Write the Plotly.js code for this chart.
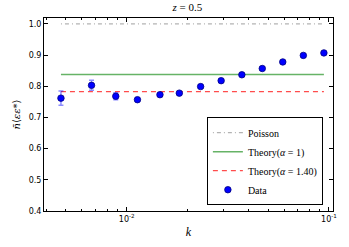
<!DOCTYPE html>
<html>
<head>
<meta charset="utf-8">
<script src="https://cdn.plot.ly/plotly-3.0.1.min.js"></script>
<style>html,body{margin:0;padding:0;background:#fff;}#chart{width:349px;height:247px;}</style>
</head>
<body>
<div id="chart"></div>
<script>
const kValues = [0.00473, 0.0067, 0.00883, 0.0113, 0.0146, 0.0182, 0.0232, 0.0293, 0.0371, 0.0468, 0.0591, 0.0747, 0.0944];
const dataValues = [0.762, 0.803, 0.768, 0.757, 0.773, 0.778, 0.799, 0.818, 0.837, 0.857, 0.878, 0.899, 0.907];
const dataErrors = [0.023, 0.016, 0.011, 0.004, 0.004, 0.004, 0.004, 0.004, 0.004, 0.004, 0.004, 0.004, 0.004];
const poissonValue = 1.0;
const theory1Value = 0.838;
const theory140Value = 0.783;
const lineK = [kValues[0], kValues[kValues.length - 1]];

const serif = "Liberation Serif, DejaVu Serif, serif";
const sans = "DejaVu Sans, sans-serif";

const traces = [
  {x: lineK, y: lineK.map(() => poissonValue), mode: 'lines', name: 'Poisson',
   line: {color: 'rgba(128,128,128,0.6)', width: 1.2, dash: '1px,3px,4px,3px'}},
  {x: lineK, y: lineK.map(() => theory1Value), mode: 'lines', name: 'Theory(<i>α</i> = 1)',
   line: {color: 'rgba(0,128,0,0.6)', width: 1.6}},
  {x: lineK, y: lineK.map(() => theory140Value), mode: 'lines', name: 'Theory(<i>α</i> = 1.40)',
   line: {color: 'rgba(255,0,0,0.7)', width: 1.3, dash: '5px,4px'}},
  {x: kValues, y: dataValues, mode: 'markers', name: 'Data',
   marker: {color: '#0000ff', size: 6.5, line: {color: '#000080', width: 0.8}},
   error_y: {type: 'data', array: dataErrors, visible: true, color: 'rgba(0,0,255,0.45)', thickness: 1.5, width: 2.5}}
];

const layout = {
  width: 349, height: 247,
  margin: {l: 44, r: 16, t: 18, b: 36},
  paper_bgcolor: '#fff', plot_bgcolor: '#fff',
  title: {text: '<i>z</i> = 0.5', font: {family: serif, size: 11, color: '#000'}, x: 0.537, xanchor: 'center', y: 0.985, yanchor: 'top'},
  showlegend: true,
  legend: {x: 0.965, xanchor: 'right', y: 0.03, yanchor: 'bottom', bgcolor: '#fff', bordercolor: '#000', borderwidth: 1,
           font: {family: serif, size: 10, color: '#000'}, tracegroupgap: 0, itemwidth: 30},
  xaxis: {type: 'log', range: [Math.log10(0.0039), Math.log10(0.1047)],
          tickvals: [0.01, 0.1], ticktext: ['10<sup>-2</sup>', '10<sup>-1</sup>'],
          ticks: 'inside', ticklen: 4, tickcolor: '#000', mirror: 'allticks', showline: true, linecolor: '#000', linewidth: 1,
          showgrid: false, zeroline: false,
          minor: {ticks: 'inside', ticklen: 2, tickcolor: '#000', tickvals: [0.004,0.005,0.006,0.007,0.008,0.009,0.02,0.03,0.04,0.05,0.06,0.07,0.08,0.09], showgrid: false},
          tickfont: {family: sans, size: 8, color: '#000'},
          title: {text: '<i>k</i>', font: {family: serif, size: 12, color: '#000'}, standoff: 5}},
  yaxis: {range: [0.4, 1.019], tickvals: [0.4, 0.5, 0.6, 0.7, 0.8, 0.9, 1.0], ticktext: ['0.4','0.5','0.6','0.7','0.8','0.9','1.0'],
          ticks: 'inside', ticklen: 4, tickcolor: '#000', mirror: 'allticks', showline: true, linecolor: '#000', linewidth: 1,
          showgrid: false, zeroline: false,
          tickfont: {family: sans, size: 8, color: '#000'},
          title: {text: '<i>n̄</i>⟨<i>εε</i>*⟩', font: {family: "DejaVu Serif, serif", size: 10, color: '#000'}, standoff: 6}}
};

Plotly.newPlot('chart', traces, layout, {displayModeBar: false, staticPlot: true});
</script>
</body>
</html>
